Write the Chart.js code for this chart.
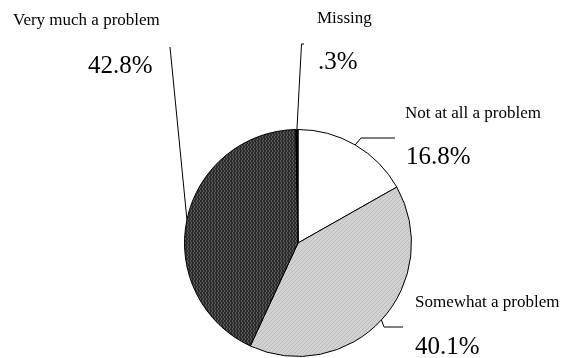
<!DOCTYPE html>
<html>
<head>
<meta charset="utf-8">
<script src="https://cdn.jsdelivr.net/npm/chart.js@4/dist/chart.umd.min.js"></script>
<style>
  html, body { margin: 0; padding: 0; background: #fff; }
  #wrap { width: 561px; height: 358px; }
</style>
</head>
<body>
<div id="wrap"><canvas id="pieChart" width="561" height="358"></canvas></div>
<script>
// Problem rating · pie

const categories = ['Not at all a problem', 'Somewhat a problem', 'Very much a problem', 'Missing'];
const shares = [16.8, 40.1, 42.8, 0.3];
const valueLabels = ['16.8%', '40.1%', '42.8%', '.3%'];

// ── fill patterns ──
function makePattern(w, h, draw) {
  const c = document.createElement('canvas');
  c.width = w; c.height = h;
  const g = c.getContext('2d');
  draw(g);
  return g.createPattern(c, 'repeat');
}

const ctx = document.getElementById('pieChart').getContext('2d');

const lightHatch = makePattern(4, 4, g => {
  g.fillStyle = '#d2d2d2';
  g.fillRect(0, 0, 4, 4);
  g.fillStyle = '#bdbdbd';
  for (let i = 0; i < 4; i++) g.fillRect(i, 3 - i, 1, 1);
});

const darkHatch = makePattern(3, 4, g => {
  g.fillStyle = '#2c2c2c';
  g.fillRect(0, 0, 3, 4);
  g.fillStyle = '#5a5a5a';
  g.fillRect(1, 0, 1, 2);
  g.fillRect(2, 2, 1, 2);
});

// label layout: text positions and leader elbows
const labelLayout = [
  { tx: 405, ty: 118, vx: 406, vy: 164, path: [[361, 138], [395, 138]] },
  { tx: 415, ty: 307, vx: 415, vy: 354, path: [[384, 327], [403, 327]] },
  { tx: 13, ty: 25, vx: 88, vy: 73, path: [[170, 47]] },
  { tx: 317, ty: 23, vx: 318, vy: 69, path: [[301.5, 44], [304, 44]] }
];

const labelPlugin = {
  id: 'sliceLabels',
  afterDraw(chart) {
    const c = chart.ctx;
    const arcs = chart.getDatasetMeta(0).data;
    c.save();
    c.strokeStyle = '#000';
    c.lineWidth = 1;
    c.fillStyle = '#000';
    c.textBaseline = 'alphabetic';
    c.textAlign = 'left';
    arcs.forEach((arc, i) => {
      const p = arc.getProps(['x', 'y', 'startAngle', 'endAngle', 'outerRadius'], true);
      const mid = (p.startAngle + p.endAngle) / 2;
      const ex = p.x + Math.cos(mid) * p.outerRadius;
      const ey = p.y + Math.sin(mid) * p.outerRadius;
      const L = labelLayout[i];
      c.beginPath();
      c.moveTo(ex, ey);
      L.path.forEach(pt => c.lineTo(pt[0], pt[1]));
      c.stroke();
      c.font = "17px 'Liberation Serif', 'Times New Roman', serif";
      c.fillText(categories[i], L.tx, L.ty);
      c.font = "25px 'Liberation Serif', 'Times New Roman', serif";
      c.fillText(valueLabels[i], L.vx, L.vy);
    });
    c.restore();
  }
};

new Chart(ctx, {
  type: 'pie',
  data: {
    labels: categories,
    datasets: [{
      data: shares,
      backgroundColor: ['#ffffff', lightHatch, darkHatch, '#000000'],
      borderColor: '#000',
      borderWidth: 1,
    }]
  },
  options: {
    responsive: false,
    animation: false,
    layout: { padding: { left: 184, right: 149, top: 129, bottom: 1 } },
    plugins: {
      legend: { display: false },
      tooltip: { enabled: false }
    }
  },
  plugins: [labelPlugin]
});
</script>
</body>
</html>
